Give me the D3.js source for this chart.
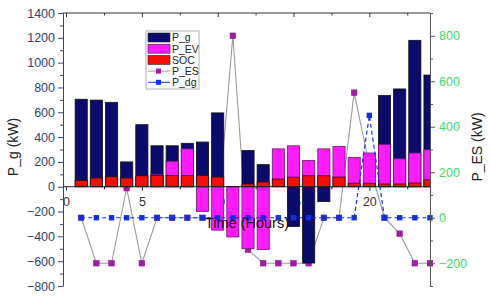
<!DOCTYPE html>
<html>
<head>
<meta charset="utf-8">
<script src="https://cdn.jsdelivr.net/npm/d3@7"></script>
<style>
  body { margin: 0; background: #fff; }
  svg { display: block; font-family: "Liberation Sans", Arial, sans-serif; }
</style>
</head>
<body>
<svg id="chart" width="491" height="301"></svg>
<script>
// data
const hours = [1, 2, 3, 4, 5, 6, 7, 8, 9, 10, 11, 12, 13, 14, 15, 16, 17, 18, 19, 20, 21, 22, 23, 24];
const P_g  = [705, 698, 680, 200, 500, 330, 330, 350, 360, 595, 0, 292, 178, 0, -320, -615, -120, 0, 0, 0, 735, 788, 1180, 900];
const P_EV = [0, 0, 0, 0, 0, 100, 205, 305, -200, -350, -405, -500, -505, 305, 330, 212, 305, 325, 237, 272, 340, 225, 272, 298];
const SOC  = [50, 70, 80, 70, 88, 90, 90, 90, 90, 78, 3, 22, 38, 62, 77, 89, 89, 78, 28, 28, 22, 22, 30, 56];
const P_ES = [0, -200, -200, 130, -200, 0, 0, 0, 0, 0, 800, -140, -200, -200, -200, -200, 0, 0, 550, 230, 0, -70, -200, -200];
const P_dg = [0, 0, 0, 0, 0, 0, 0, 0, 0, 0, 0, 0, 0, 0, 0, 0, 0, 0, 0, 450, 0, 0, 0, 0];

const xTicks = [0, 5, 10, 15, 20];
const xMinor = [2.5, 7.5, 12.5, 17.5, 22.5];
const leftTicks = [-800, -600, -400, -200, 0, 200, 400, 600, 800, 1000, 1200, 1400];
const leftMinor = [-700, -500, -300, -100, 100, 300, 500, 700, 900, 1100, 1300];
const rightTicks = [-200, 0, 200, 400, 600, 800];
const rightMinor = [-300, -100, 100, 300, 500, 700, 900];

const legendItems = [
  {name: "P_g", kind: "bar", color: "#0b0b6e"},
  {name: "P_EV", kind: "bar", color: "#ff1aff"},
  {name: "SOC", kind: "bar", color: "#fb0a0a"},
  {name: "P_ES", kind: "line", color: "#a41aa8", line: "#9a9a9a"},
  {name: "P_dg", kind: "line", color: "#1430dc", line: "#1430dc"}
];

const svg = d3.select("#chart");
const pL = 63, pR = 430, pT = 13, pB = 286;

const x = d3.scaleLinear().domain([-0.2, 24]).range([pL, pR]);
const yL = d3.scaleLinear().domain([-800, 1400]).range([pB, pT]);
const yR = d3.scaleLinear().domain([-300, 900]).range([pB, pT]);
const barW = x(0.8) - x(0);
const fmt = d3.format("d");

svg.append("defs").append("clipPath").attr("id", "plotClip")
  .append("rect").attr("x", pL).attr("y", pT).attr("width", pR - pL).attr("height", pB - pT);

// x axis under the bars (labels get covered like in the original)
const xAxisG = svg.append("g").attr("transform", `translate(0,${yL(0)})`)
  .call(d3.axisBottom(x).tickValues(xTicks).tickSize(4).tickPadding(6).tickSizeOuter(0));
xAxisG.select(".domain").remove();
xAxisG.selectAll("text").attr("font-size", 12.5).attr("fill", "#333");
xAxisG.selectAll("line").attr("stroke", "#333");
svg.append("g").attr("transform", `translate(0,${yL(0)})`)
  .call(d3.axisBottom(x).tickValues(xMinor).tickSize(2.5).tickFormat("").tickSizeOuter(0))
  .select(".domain").remove();

// P_ES line sits behind the bars
const esLine = d3.line().x((d, i) => x(hours[i])).y(d => yR(d));
svg.append("path").datum(P_ES)
  .attr("d", esLine).attr("fill", "none").attr("stroke", "#9a9a9a").attr("stroke-width", 1.1);
svg.append("g").selectAll("rect").data(P_ES).join("rect")
  .attr("x", (d, i) => x(hours[i]) - 2.8).attr("y", d => yR(d) - 2.8)
  .attr("width", 5.6).attr("height", 5.6)
  .attr("fill", "#a41aa8").attr("stroke", "#7a1080").attr("stroke-width", 0.5);

// bars: P_g, then P_EV, then SOC drawn over each other from zero
const bars = svg.append("g").attr("clip-path", "url(#plotClip)");
function drawBars(vals, color, strokeCol) {
  const pts = vals.map((v, i) => ({h: hours[i], v: v})).filter(d => d.v !== 0);
  bars.append("g").selectAll("rect").data(pts).join("rect")
    .attr("x", d => x(d.h) - barW / 2)
    .attr("y", d => yL(Math.max(0, d.v)))
    .attr("width", barW)
    .attr("height", d => Math.abs(yL(d.v) - yL(0)))
    .attr("fill", color)
    .attr("stroke", strokeCol).attr("stroke-width", 0.8);
}
drawBars(P_g, "#0b0b6e", "#111");
drawBars(P_EV, "#ff1aff", "#6a1a6a");
drawBars(SOC, "#fb0a0a", "#3a0a0a");

// zero line over bars
svg.append("line").attr("x1", pL).attr("x2", pR)
  .attr("y1", yL(0)).attr("y2", yL(0)).attr("stroke", "#222").attr("stroke-width", 1);

// P_dg dashed line on top
const dgLine = d3.line().x((d, i) => x(hours[i])).y(d => yR(d));
svg.append("path").datum(P_dg)
  .attr("d", dgLine).attr("fill", "none").attr("stroke", "#1430dc")
  .attr("stroke-width", 1.2).attr("stroke-dasharray", "4,3");
svg.append("g").selectAll("rect").data(P_dg).join("rect")
  .attr("x", (d, i) => x(hours[i]) - 2.7).attr("y", d => yR(d) - 2.7)
  .attr("width", 5.4).attr("height", 5.4).attr("fill", "#1430dc");

// left axis
const lAxis = svg.append("g").attr("transform", `translate(${pL},0)`)
  .call(d3.axisLeft(yL).tickValues(leftTicks).tickFormat(fmt).tickSize(5).tickPadding(3).tickSizeOuter(0));
lAxis.select(".domain").attr("stroke", "#3a4470");
lAxis.selectAll("line").attr("stroke", "#3a4470");
lAxis.selectAll("text").attr("font-size", 12.5).attr("fill", "#34416f");
svg.append("g").attr("transform", `translate(${pL},0)`)
  .call(d3.axisLeft(yL).tickValues(leftMinor).tickSize(3).tickFormat("").tickSizeOuter(0))
  .call(g => g.select(".domain").remove())
  .selectAll("line").attr("stroke", "#3a4470");

// right axis
const rAxis = svg.append("g").attr("transform", `translate(${pR},0)`)
  .call(d3.axisRight(yR).tickValues(rightTicks).tickFormat(fmt).tickSize(5).tickPadding(4).tickSizeOuter(0));
rAxis.select(".domain").attr("stroke", "#555");
rAxis.selectAll("line").attr("stroke", "#555");
rAxis.selectAll("text").attr("font-size", 12.5).attr("fill", "#3ddc6a");
svg.append("g").attr("transform", `translate(${pR},0)`)
  .call(d3.axisRight(yR).tickValues(rightMinor).tickSize(3).tickFormat("").tickSizeOuter(0))
  .call(g => g.select(".domain").remove())
  .selectAll("line").attr("stroke", "#555");

// top frame with inward ticks
const tAxis = svg.append("g").attr("transform", `translate(0,${pT})`)
  .call(d3.axisTop(x).tickValues(xTicks).tickSize(-4).tickFormat("").tickSizeOuter(0));
tAxis.select(".domain").attr("stroke", "#333").attr("d", `M${pL},0H${pR}`);
tAxis.selectAll("line").attr("stroke", "#333");
svg.append("g").attr("transform", `translate(0,${pT})`)
  .call(d3.axisTop(x).tickValues(xMinor).tickSize(-2.5).tickFormat("").tickSizeOuter(0))
  .call(g => g.select(".domain").remove())
  .selectAll("line").attr("stroke", "#333");

// axis titles
svg.append("text").attr("transform", "translate(18,147) rotate(-90)")
  .attr("text-anchor", "middle").attr("font-size", 14).attr("fill", "#222").text("P_g (kW)");
svg.append("text").attr("transform", "translate(482,147) rotate(-90)")
  .attr("text-anchor", "middle").attr("font-size", 14).attr("fill", "#222").text("P_ES (kW)");
svg.append("text").attr("x", 247).attr("y", 228)
  .attr("text-anchor", "middle").attr("font-size", 14.5).attr("fill", "#111").text("Time (Hours)");

// legend
const lg = svg.append("g").attr("transform", "translate(146,31)");
lg.append("rect").attr("width", 53).attr("height", 58)
  .attr("fill", "#fff").attr("stroke", "#999").attr("stroke-width", 0.8);
const rows = lg.selectAll("g").data(legendItems).join("g")
  .attr("transform", (d, i) => `translate(0,${6.5 + i * 11.2})`);
rows.filter(d => d.kind === "bar").append("rect")
  .attr("x", 2).attr("y", -4.5).attr("width", 22).attr("height", 9)
  .attr("fill", d => d.color).attr("stroke", "#222").attr("stroke-width", 0.6);
rows.filter(d => d.kind === "line").append("line")
  .attr("x1", 2).attr("x2", 24).attr("stroke", d => d.line).attr("stroke-width", 1);
rows.filter(d => d.kind === "line").append("rect")
  .attr("x", 10).attr("y", -2.5).attr("width", 5).attr("height", 5).attr("fill", d => d.color);
rows.append("text").attr("x", 26).attr("y", 3.8)
  .attr("font-size", 10.5).attr("fill", "#222").text(d => d.name);
</script>
</body>
</html>
